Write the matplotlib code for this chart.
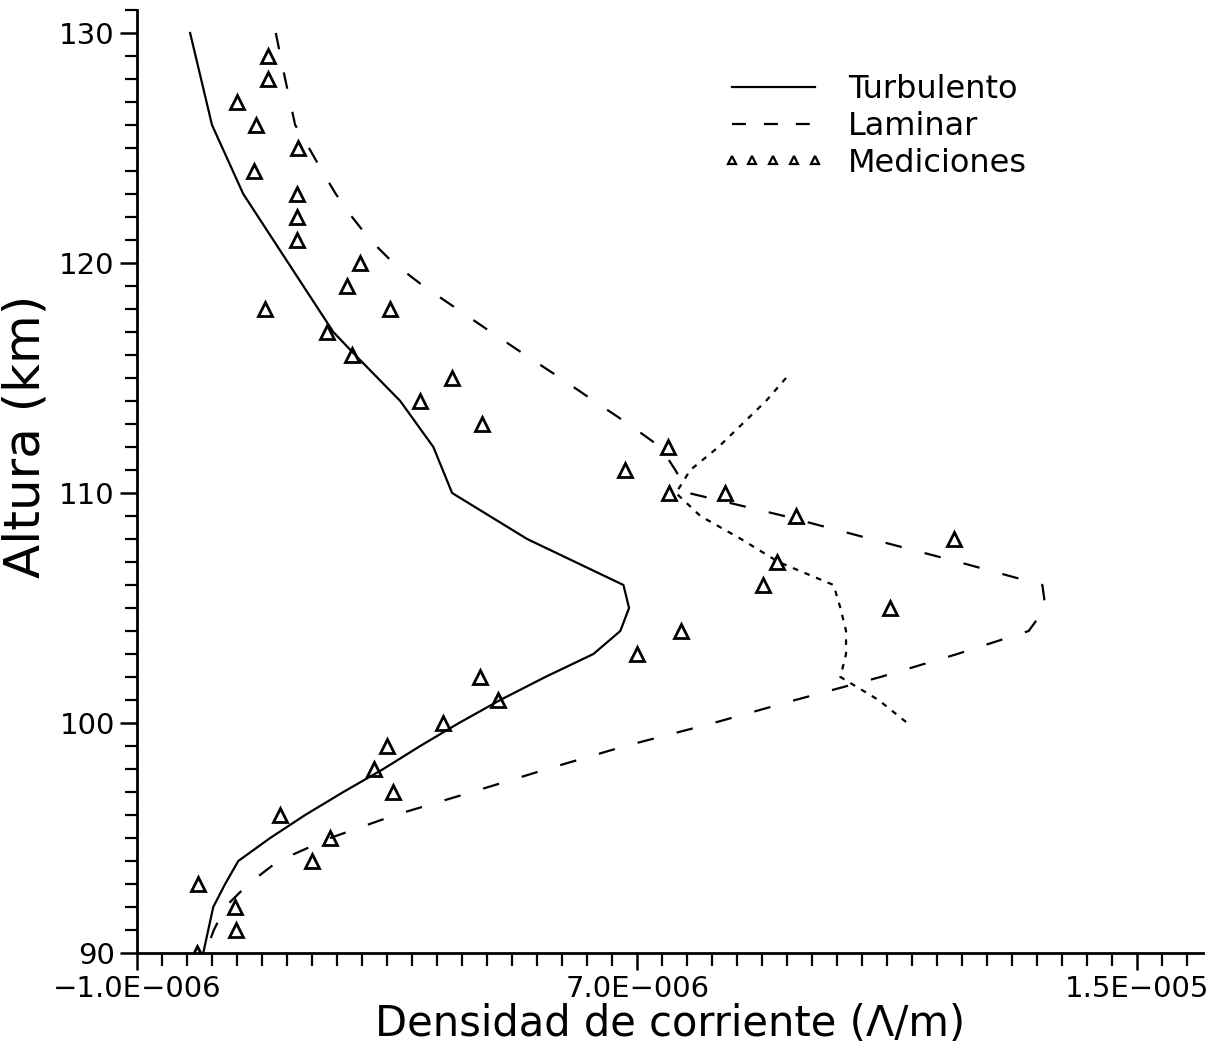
import matplotlib
matplotlib.use("Agg")
import matplotlib.pyplot as plt
from matplotlib.lines import Line2D
from matplotlib.ticker import MultipleLocator, FixedLocator

plt.rcParams['font.family'] = ['DejaVu Sans']
plt.rcParams['lines.scale_dashes'] = False

# ---- data ----
turb_alt = [130, 126, 123, 121, 119, 117, 116, 114, 112, 110, 108, 106, 105, 104,
            103, 102, 101, 100, 99, 98, 97, 96, 95, 94, 93, 92, 90]
turb_j = [-0.15e-6, 0.20e-6, 0.70e-6, 1.18e-6, 1.66e-6, 2.14e-6, 2.49e-6, 3.21e-6,
          3.74e-6, 4.04e-6, 5.24e-6, 6.78e-6, 6.87e-6, 6.73e-6, 6.30e-6, 5.53e-6,
          4.81e-6, 4.15e-6, 3.53e-6, 2.94e-6, 2.30e-6, 1.69e-6, 1.13e-6, 0.62e-6,
          0.41e-6, 0.22e-6, 0.06e-6]

lam_alt = [130, 128, 126, 125, 124, 123, 122, 121, 120, 119, 118, 117, 116, 115,
           114, 113, 112, 111, 110, 109, 108, 107, 106, 105, 104, 103, 102, 101,
           100, 99, 98, 97, 96, 95, 94, 93, 92, 91, 90]
lam_j = [1.22e-6, 1.37e-6, 1.53e-6, 1.75e-6, 1.96e-6, 2.18e-6, 2.44e-6, 2.73e-6,
         3.10e-6, 3.58e-6, 4.12e-6, 4.66e-6, 5.21e-6, 5.77e-6, 6.31e-6, 6.86e-6,
         7.37e-6, 7.61e-6, 7.82e-6, 9.35e-6, 10.74e-6, 12.14e-6, 13.48e-6, 13.53e-6,
         13.26e-6, 12.12e-6, 10.89e-6, 9.53e-6, 8.22e-6, 6.81e-6, 5.56e-6, 4.36e-6,
         3.13e-6, 2.09e-6, 1.26e-6, 0.78e-6, 0.41e-6, 0.23e-6, 0.09e-6]

dot_alt = [115, 114, 113, 112, 111, 110, 109, 108, 107, 106, 105, 104, 103, 102, 101, 100]
dot_j = [9.38e-6, 9.06e-6, 8.68e-6, 8.30e-6, 7.85e-6, 7.62e-6, 8.01e-6, 8.66e-6,
         9.26e-6, 10.14e-6, 10.25e-6, 10.34e-6, 10.34e-6, 10.25e-6, 10.86e-6, 11.32e-6]

meas_alt = [129, 128, 127, 126, 125, 124, 123, 122, 121, 120, 119, 118, 118, 117,
            116, 115, 114, 113, 112, 111, 110, 110, 109, 108, 107, 106, 105, 104,
            103, 102, 101, 100, 99, 98, 97, 96, 95, 94, 93, 92, 91, 90]
meas_j = [1.10e-6, 1.10e-6, 0.60e-6, 0.90e-6, 1.58e-6, 0.87e-6, 1.56e-6, 1.56e-6,
          1.56e-6, 2.57e-6, 2.36e-6, 1.05e-6, 3.05e-6, 2.04e-6, 2.44e-6, 4.04e-6,
          3.53e-6, 4.52e-6, 7.50e-6, 6.81e-6, 7.51e-6, 8.41e-6, 9.54e-6, 12.06e-6,
          9.24e-6, 9.02e-6, 11.04e-6, 7.70e-6, 7.00e-6, 4.49e-6, 4.78e-6, 3.90e-6,
          3.00e-6, 2.79e-6, 3.10e-6, 1.29e-6, 2.09e-6, 1.80e-6, -0.03e-6, 0.57e-6,
          0.58e-6, -0.04e-6]

x_ticks = [-1.0e-6, 7.0e-6, 1.5e-5]
x_tick_labels = ["\u22121.0E\u2212006", "7.0E\u2212006", "1.5E\u2212005"]
y_ticks = [90, 100, 110, 120, 130]
series_labels = ["Turbulento", "Laminar", "Mediciones"]

# ---- figure ----
fig = plt.figure(figsize=(12.24, 10.49), dpi=100)
ax = fig.add_axes([0.1119, 0.0915, 0.871, 0.899])

ax.plot(turb_j, turb_alt, color='black', lw=1.6, ls='-')
ax.plot(lam_j, lam_alt, color='black', lw=1.6, ls=(0, (12, 17)))
ax.plot(dot_j, dot_alt, color='black', lw=1.6, ls=(0, (4, 5)))
ax.plot(meas_j, meas_alt, ls='none', marker='^', ms=10, mfc='none', mec='black',
        mew=2.0)

ax.set_xlim(-1.0e-6, 1.605e-5)
ax.set_ylim(90, 131)

ax.spines['top'].set_visible(False)
ax.spines['right'].set_visible(False)
ax.spines['left'].set_linewidth(2)
ax.spines['bottom'].set_linewidth(2)

ax.xaxis.set_major_locator(FixedLocator(x_ticks))
ax.set_xticklabels(x_tick_labels)
ax.xaxis.set_minor_locator(MultipleLocator(0.4e-6, offset=0.2e-6))
ax.yaxis.set_major_locator(FixedLocator(y_ticks))
ax.yaxis.set_minor_locator(MultipleLocator(1))

ax.tick_params(axis='both', which='major', direction='out', length=12, width=1.8,
               labelsize=21, pad=4)
ax.tick_params(axis='both', which='minor', direction='out', length=9, width=1.6)

ax.set_xlabel("Densidad de corriente (\u039b/m)", fontsize=30, labelpad=0)
ax.set_ylabel("Altura (km)", fontsize=36)
ax.yaxis.set_label_coords(-0.082, 0.548)

# legend proxies (style only)
handles = [
    Line2D([], [], color='black', lw=1.6, ls='-'),
    Line2D([], [], color='black', lw=1.6, ls=(0, (10, 13))),
    Line2D([], [], ls='none', marker='^', ms=6, mfc='none', mec='black', mew=1.6),
]
leg = ax.legend(handles, series_labels, loc='upper left',
                bbox_to_anchor=(722 / 1224, 1 - 74 / 1049),
                bbox_transform=fig.transFigure, frameon=False, fontsize=23,
                handlelength=3.2, handletextpad=0.75, labelspacing=0.18,
                borderpad=0, borderaxespad=0, numpoints=5)

fig.savefig("out.png", dpi=100)
